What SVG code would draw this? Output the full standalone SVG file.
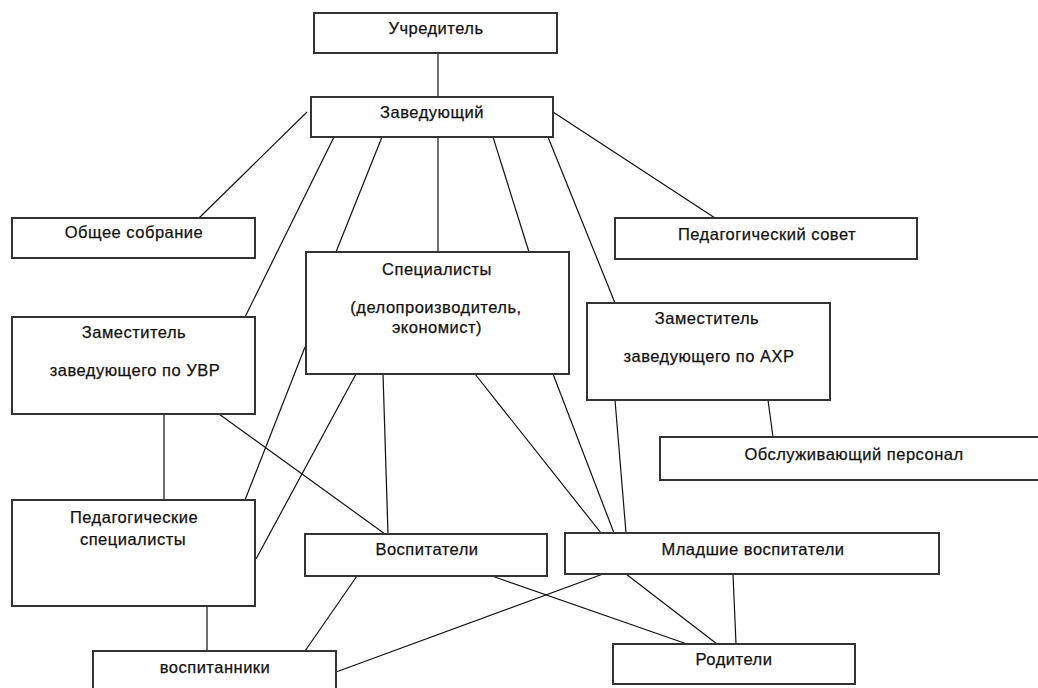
<svg xmlns="http://www.w3.org/2000/svg" width="1038" height="688" viewBox="0 0 1038 688">
<style>
.box{fill:#fff;stroke:#333;stroke-width:2}
.ln{stroke:#111;stroke-width:1.2;fill:none}
text{font-family:"Liberation Sans",Arial,sans-serif;font-size:16.5px;letter-spacing:0.5px;fill:#111;stroke:#111;stroke-width:0.25;text-anchor:middle}
</style>
<rect width="1038" height="688" fill="#fff"/>
<g id="connectors">
<line class="ln" x1="438" y1="53" x2="438" y2="97"/>
<line class="ln" x1="307" y1="112" x2="199" y2="218"/>
<line class="ln" x1="553" y1="112" x2="715" y2="218"/>
<line class="ln" x1="334" y1="137" x2="245" y2="317"/>
<line class="ln" x1="382" y1="137" x2="336" y2="252"/>
<line class="ln" x1="438" y1="137" x2="438" y2="252"/>
<line class="ln" x1="493" y1="137" x2="529" y2="252"/>
<line class="ln" x1="548" y1="137" x2="615" y2="303"/>
<line class="ln" x1="305" y1="347" x2="245" y2="500"/>
<line class="ln" x1="356" y1="374" x2="256" y2="559"/>
<line class="ln" x1="383" y1="374" x2="388" y2="534"/>
<line class="ln" x1="475" y1="374" x2="601" y2="533"/>
<line class="ln" x1="553" y1="374" x2="614" y2="533"/>
<line class="ln" x1="615" y1="400" x2="626" y2="533"/>
<line class="ln" x1="219" y1="414" x2="385" y2="534"/>
<line class="ln" x1="768" y1="400" x2="773" y2="437"/>
<line class="ln" x1="164" y1="414" x2="164" y2="500"/>
<line class="ln" x1="207" y1="606" x2="207" y2="651"/>
<line class="ln" x1="357" y1="576" x2="305" y2="651"/>
<line class="ln" x1="492" y1="576" x2="687" y2="644"/>
<line class="ln" x1="603" y1="574" x2="336" y2="672"/>
<line class="ln" x1="626" y1="574" x2="717" y2="644"/>
<line class="ln" x1="733" y1="574" x2="736" y2="644"/>
</g>
<g id="uchreditel"><rect class="box" x="314" y="13" width="243" height="40"/><text x="436" y="34">Учредитель</text></g>
<g id="zaveduyushchiy"><rect class="box" x="311" y="97" width="242" height="40"/><text x="432" y="118">Заведующий</text></g>
<g id="obshchee"><rect class="box" x="12" y="218" width="243" height="40"/><text x="134" y="238">Общее собрание</text></g>
<g id="zam-uvr"><rect class="box" x="12" y="317" width="243" height="97"/><text x="134" y="338">Заместитель</text><text x="135" y="376">заведующего по УВР</text></g>
<g id="specialisty"><rect class="box" x="306" y="252" width="263" height="122"/><text x="437" y="275">Специалисты</text><text x="436" y="313">(делопроизводитель,</text><text x="437" y="333">экономист)</text></g>
<g id="pedsovet"><rect class="box" x="615" y="218" width="302" height="41"/><text x="767" y="240">Педагогический совет</text></g>
<g id="zam-ahr"><rect class="box" x="587" y="303" width="243" height="97"/><text x="707" y="324">Заместитель</text><text x="709" y="362">заведующего по АХР</text></g>
<g id="obsluzh"><rect class="box" x="660" y="437" width="400" height="43"/><text x="854" y="460">Обслуживающий персонал</text></g>
<g id="ped-spec"><rect class="box" x="12" y="500" width="243" height="106"/><text x="134" y="523">Педагогические</text><text x="133" y="545">специалисты</text></g>
<g id="vospitateli"><rect class="box" x="305" y="534" width="242" height="42"/><text x="427" y="555">Воспитатели</text></g>
<g id="mladshie"><rect class="box" x="565" y="533" width="374" height="41"/><text x="753" y="555">Младшие воспитатели</text></g>
<g id="vospitanniki"><rect class="box" x="93" y="651" width="243" height="50"/><text x="215" y="673">воспитанники</text></g>
<g id="roditeli"><rect class="box" x="613" y="644" width="242" height="40"/><text x="734" y="665">Родители</text></g>
</svg>
